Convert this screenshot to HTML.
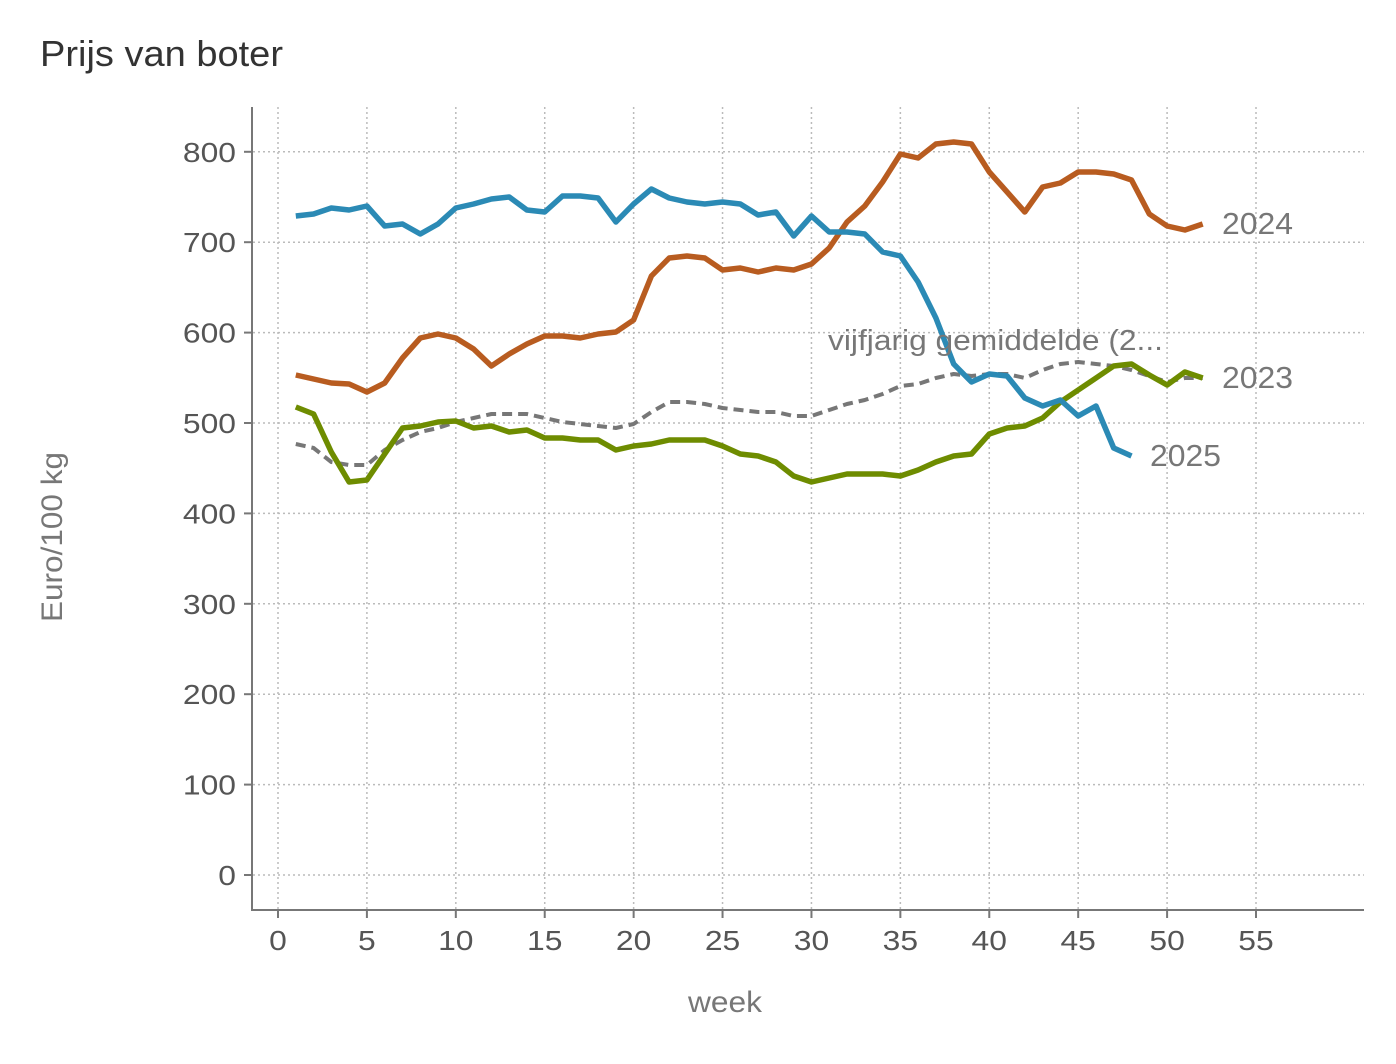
<!DOCTYPE html>
<html><head><meta charset="utf-8"><style>
body{margin:0;background:#fff;width:1396px;height:1064px;overflow:hidden}
svg{display:block;font-family:"Liberation Sans",sans-serif}
</style></head><body>
<svg id="s" width="1396" height="1064" xmlns="http://www.w3.org/2000/svg">
<text x="40" y="66" font-size="36" fill="#333" textLength="243" lengthAdjust="spacingAndGlyphs">Prijs van boter</text>
<g id="grid" stroke="#bbb" stroke-width="1.5" stroke-dasharray="2,3" fill="none"></g>
<g id="axes" stroke="#777" stroke-width="2" fill="none">
<line x1="252" y1="107" x2="252" y2="911"/>
<line x1="252" y1="910" x2="1364" y2="910"/>
</g>
<g id="lab" font-size="28" fill="#555"></g>
<text transform="translate(62,537) rotate(-90)" text-anchor="middle" font-size="30" fill="#777" textLength="170" lengthAdjust="spacingAndGlyphs">Euro/100 kg</text>
<text x="725" y="1012" text-anchor="middle" font-size="30" fill="#777" textLength="74" lengthAdjust="spacingAndGlyphs">week</text>
<g id="lines" fill="none" stroke-width="5.5" stroke-linejoin="round"></g>
<text x="828" y="350" font-size="29" fill="#777" textLength="335" lengthAdjust="spacingAndGlyphs">vijfjarig gemiddelde (2...</text>
<text x="1222" y="234" font-size="31" fill="#777" textLength="71" lengthAdjust="spacingAndGlyphs">2024</text>
<text x="1222" y="388" font-size="31" fill="#777" textLength="71" lengthAdjust="spacingAndGlyphs">2023</text>
<text x="1150" y="466" font-size="31" fill="#777" textLength="71" lengthAdjust="spacingAndGlyphs">2025</text>
</svg>
<script>
var ns="http://www.w3.org/2000/svg";
function el(p,t,a,txt){var e=document.createElementNS(ns,t);for(var k in a)e.setAttribute(k,a[k]);if(txt!=null)e.textContent=txt;document.getElementById(p).appendChild(e);}
function X(w){return 278+w*978/55;}
for(var v=0;v<=800;v+=100){var y=875-v*0.904;el('grid','line',{x1:253,y1:y,x2:1364,y2:y});el('axes','line',{x1:244,y1:y,x2:252,y2:y});var s=String(v);el('lab','text',{x:236,y:y+10,'text-anchor':'end',textLength:(s.length*17.7),lengthAdjust:'spacingAndGlyphs'},s);}
for(var w=0;w<=55;w+=5){var x=X(w);el('grid','line',{x1:x,y1:107,x2:x,y2:909});el('axes','line',{x1:x,y1:910,x2:x,y2:918});var s=String(w);el('lab','text',{x:x,y:950,'text-anchor':'middle',textLength:(s.length*17.7),lengthAdjust:'spacingAndGlyphs'},s);}
var gray=[444,448,462,465,465,450,440,432,428,422,418,414,414,414,418,422,424,426,428,424,412,402,402,404,408,410,412,412,416,416,410,404,400,394,386,384,378,374,376,374,374,378,370,364,362,364,366,370,376,382,378,378];
var green=[407,414,452,482,480,454,428,426,422,421,428,426,432,430,438,438,440,440,450,446,444,440,440,440,446,454,456,462,476,482,478,474,474,474,476,470,462,456,454,434,428,426,418,402,390,378,366,364,375,385,372,378];
var orange=[375,379,383,384,392,383,358,338,334,338,349,366,354,344,336,336,338,334,332,320,276,258,256,258,270,268,272,268,270,264,248,222,206,182,154,158,144,142,144,172,192,212,187,183,172,172,174,180,214,226,230,224];
var blue=[216,214,208,210,206,226,224,234,224,208,204,199,197,210,212,196,196,198,222,204,189,198,202,204,202,204,215,212,236,216,232,232,234,252,256,282,318,364,382,374,376,398,406,400,416,406,448,456];
function pts(a){return a.map(function(y,i){return X(i+1).toFixed(1)+','+y;}).join(' ');}
el('lines','polyline',{points:pts(gray),stroke:'#777',"stroke-width":4,"stroke-dasharray":"10,6"});
el('lines','polyline',{points:pts(green),stroke:'#6e8c00'});
el('lines','polyline',{points:pts(orange),stroke:'#b85c20'});
el('lines','polyline',{points:pts(blue),stroke:'#2b8ab5'});
</script>
</body></html>
